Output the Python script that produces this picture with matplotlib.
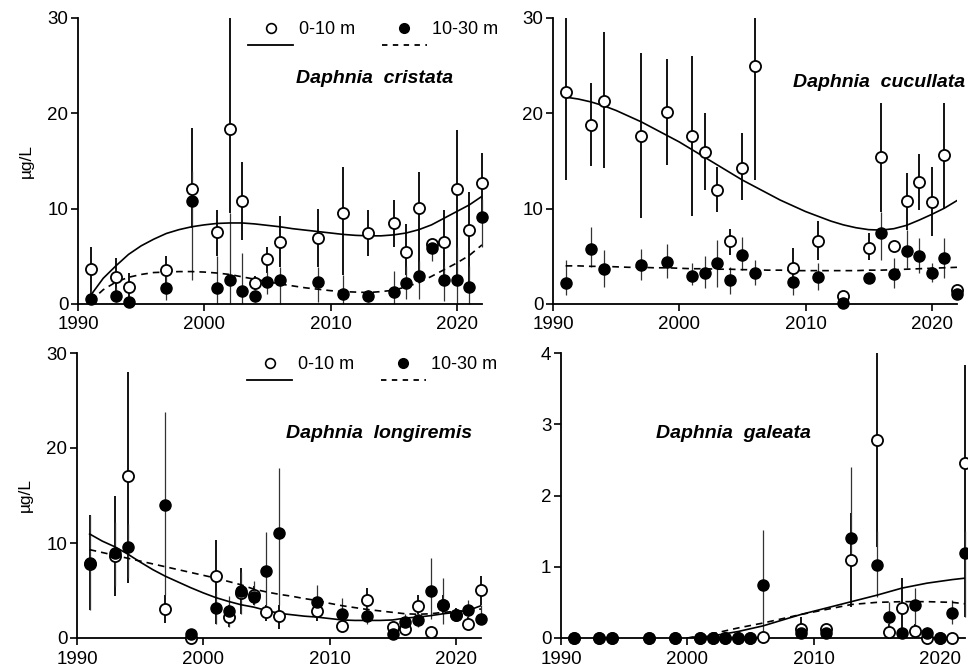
import matplotlib
matplotlib.use('Agg')
import matplotlib.pyplot as plt
from matplotlib.lines import Line2D

plt.rcParams['font.family'] = ['Liberation Sans', 'DejaVu Sans']
plt.rcParams['font.size'] = 12

years = [1991, 1993, 1994, 1997, 1999, 2001, 2002, 2003, 2004, 2005, 2006,
         2009, 2011, 2013, 2015, 2016, 2017, 2018, 2019, 2020, 2021, 2022]

# Daphnia cristata
cri_open = [3.7, 2.8, 1.8, 3.6, 12.1, 7.5, 18.4, 10.8, 2.2, 4.7, 6.5, 6.9, 9.5, 7.4, 8.5, 5.5, 10.1, 6.3, 6.5, 12.1, 7.8, 12.7]
cri_open_lo = [0.8, 0.6, 0.3, 2.2, 8.0, 5.0, 9.5, 6.7, 1.5, 3.2, 3.9, 3.9, 3.0, 5.0, 6.0, 3.0, 3.0, 5.5, 2.5, 2.5, 1.8, 9.0]
cri_open_hi = [6.0, 4.8, 3.2, 5.0, 18.5, 9.9, 30.0, 14.9, 2.9, 6.0, 9.2, 10.0, 14.4, 9.9, 10.9, 8.4, 13.8, 6.7, 9.9, 18.2, 11.8, 15.8]
cri_deep = [0.5, 0.85, 0.25, 1.65, 10.8, 1.65, 2.55, 1.4, 0.85, 2.3, 2.5, 2.35, 1.1, 0.85, 1.25, 2.25, 2.95, 5.85, 2.5, 2.5, 1.8, 9.1]
cri_deep_lo = [0.1, 0.2, 0.0, 0.4, 2.5, 0.0, 0.0, 0.0, 0.2, 1.0, 0.0, 0.2, 0.0, 0.2, 0.0, 0.5, 0.5, 4.5, 0.3, 0.0, 0.0, 6.0]
cri_deep_hi = [1.5, 1.8, 0.8, 3.0, 14.0, 5.0, 9.5, 5.3, 1.5, 3.5, 3.9, 3.9, 3.0, 1.5, 3.5, 4.0, 4.5, 6.5, 4.0, 6.0, 4.0, 11.0]

# Daphnia cucullata
cuc_open = [22.2, 18.8, 21.25, 17.6, 20.1, 17.6, 15.9, 12.0, 6.6, 14.3, 25.0, 3.75, 6.65, 0.8, 5.9, 15.4, 6.1, 10.85, 12.8, 10.7, 15.6, 1.5]
cuc_open_lo = [13.0, 14.5, 14.25, 9.0, 14.6, 9.2, 12.0, 9.7, 5.1, 10.9, 13.0, 2.5, 4.6, 0.5, 4.6, 9.7, 5.5, 7.8, 9.9, 7.1, 10.0, 1.2]
cuc_open_hi = [30.0, 23.2, 28.5, 26.3, 25.7, 26.0, 20.0, 14.4, 7.9, 17.9, 30.0, 5.85, 8.75, 1.0, 7.4, 21.1, 6.6, 13.7, 15.7, 14.4, 21.1, 1.8]
cuc_deep = [2.2, 5.8, 3.65, 4.1, 4.4, 2.9, 3.2, 4.3, 2.5, 5.1, 3.3, 2.35, 2.8, 0.07, 2.76, 7.4, 3.1, 5.55, 5.0, 3.3, 4.8, 1.05]
cuc_deep_lo = [0.9, 3.9, 1.8, 2.5, 2.7, 2.0, 1.65, 1.8, 1.1, 3.6, 2.0, 0.95, 1.5, 0.0, 2.2, 4.6, 1.65, 3.75, 3.2, 2.35, 2.7, 0.8]
cuc_deep_hi = [4.6, 8.1, 5.7, 5.8, 6.3, 4.3, 5.0, 6.7, 3.9, 7.0, 4.6, 3.3, 4.3, 0.2, 3.3, 9.7, 4.8, 7.8, 6.9, 4.3, 6.9, 1.3]

# Daphnia longiremis
lon_open = [7.8, 8.65, 17.1, 3.05, 0.0, 6.55, 2.2, 4.7, 4.5, 2.7, 2.35, 2.8, 1.3, 3.95, 1.2, 0.95, 3.4, 0.6, 3.5, 2.4, 1.5, 5.05]
lon_open_lo = [3.0, 4.4, 5.8, 1.6, 0.0, 1.5, 1.2, 2.5, 3.5, 1.8, 1.0, 1.8, 0.8, 2.5, 0.8, 0.5, 2.5, 0.3, 2.5, 1.8, 1.0, 3.5]
lon_open_hi = [12.9, 14.9, 28.0, 4.55, 0.3, 10.3, 3.5, 7.35, 5.5, 3.5, 3.5, 4.0, 2.0, 5.25, 1.6, 1.5, 4.5, 1.0, 4.5, 3.2, 2.2, 6.5]
lon_deep = [7.9, 9.0, 9.6, 14.0, 0.4, 3.15, 2.85, 5.0, 4.3, 7.1, 11.1, 3.75, 2.55, 2.35, 0.45, 1.65, 1.85, 4.9, 3.5, 2.45, 2.9, 2.05]
lon_deep_lo = [3.0, 5.5, 6.3, 4.5, 0.0, 1.5, 1.2, 2.5, 3.5, 2.5, 3.5, 2.5, 1.3, 1.5, 0.2, 1.0, 1.2, 2.0, 1.5, 1.8, 2.0, 1.5]
lon_deep_hi = [12.9, 12.25, 12.0, 23.8, 0.8, 5.0, 4.4, 7.0, 5.95, 11.2, 17.85, 5.6, 4.2, 3.5, 0.8, 2.5, 2.5, 8.4, 6.3, 3.2, 4.0, 3.5]

# Daphnia galeata
gal_open = [0, 0, 0, 0, 0, 0, 0, 0, 0, 0, 0.02, 0.13, 0.13, 1.1, 2.78, 0.08, 0.42, 0.1, 0.0, 0.0, 0.0, 2.45]
gal_open_lo = [0, 0, 0, 0, 0, 0, 0, 0, 0, 0, 0.0, 0.05, 0.05, 0.44, 1.28, 0.0, 0.0, 0.05, 0.0, 0.0, 0.0, 0.3]
gal_open_hi = [0, 0, 0, 0, 0, 0, 0, 0, 0, 0, 0.05, 0.3, 0.2, 1.75, 4.0, 0.2, 0.84, 0.2, 0.05, 0.0, 0.0, 3.83]
gal_deep = [0, 0, 0, 0, 0, 0, 0, 0, 0, 0, 0.75, 0.07, 0.07, 1.4, 1.03, 0.3, 0.07, 0.47, 0.07, 0.0, 0.35, 1.2]
gal_deep_lo = [0, 0, 0, 0, 0, 0, 0, 0, 0, 0, 0.1, 0.0, 0.0, 1.1, 0.58, 0.1, 0.0, 0.1, 0.0, 0.0, 0.2, 0.3]
gal_deep_hi = [0, 0, 0, 0, 0, 0, 0, 0, 0, 0, 1.52, 0.15, 0.15, 2.4, 1.5, 0.5, 0.15, 0.7, 0.15, 0.0, 0.54, 1.5]

# fitted trend curves
trend_years = list(range(1991, 2023))
cri_fit_open = [0.9, 2.7, 4.0, 5.2, 6.1, 6.8, 7.4, 7.8, 8.1, 8.3, 8.45, 8.5, 8.5, 8.4, 8.25, 8.1,
                7.9, 7.75, 7.6, 7.45, 7.3, 7.2, 7.15, 7.15, 7.25, 7.45, 7.8, 8.3, 9.0, 9.7, 10.4, 11.3]
cri_fit_deep = [0.3, 1.5, 2.3, 2.8, 3.1, 3.3, 3.35, 3.4, 3.4, 3.35, 3.25, 3.1, 2.85, 2.6, 2.35, 2.1,
                1.9, 1.7, 1.55, 1.4, 1.3, 1.25, 1.2, 1.3, 1.45, 1.8, 2.25, 2.9, 3.6, 4.3, 5.1, 6.2]
cuc_fit_open = [21.7, 21.5, 21.2, 20.8, 20.3, 19.7, 19.1, 18.4, 17.7, 17.0, 16.2, 15.4, 14.6, 13.8, 13.0, 12.3,
                11.6, 10.9, 10.3, 9.7, 9.2, 8.7, 8.3, 8.0, 7.8, 7.75, 7.9, 8.25, 8.8, 9.4, 10.05, 10.85]
cuc_fit_deep = [4.0, 4.0, 3.95, 3.95, 3.9, 3.85, 3.85, 3.8, 3.8, 3.75, 3.7, 3.7, 3.65, 3.65, 3.6, 3.6,
                3.55, 3.55, 3.5, 3.5, 3.5, 3.5, 3.5, 3.5, 3.55, 3.55, 3.6, 3.65, 3.7, 3.75, 3.8, 3.85]
lon_fit_open = [10.95, 10.2, 9.6, 8.85, 8.0, 7.2, 6.5, 5.9, 5.3, 4.75, 4.25, 3.85, 3.5, 3.25, 2.9, 2.6,
                2.45, 2.3, 2.2, 2.05, 1.9, 1.85, 1.85, 1.85, 1.9, 2.1, 2.2, 2.35, 2.55, 2.7, 2.9, 3.4]
lon_fit_deep = [9.3, 9.0, 8.7, 8.4, 8.1, 7.8, 7.5, 7.2, 6.9, 6.6, 6.3, 5.95, 5.6, 5.15, 4.85, 4.6,
                4.4, 4.15, 3.95, 3.65, 3.4, 3.2, 3.0, 2.85, 2.7, 2.55, 2.5, 2.55, 2.7, 2.8, 2.9, 3.05]
gal_fit_years = [2000, 2002, 2004, 2006, 2009, 2011, 2013, 2015, 2017, 2019, 2021, 2022]
gal_fit_open = [0.0, 0.03, 0.09, 0.17, 0.33, 0.42, 0.51, 0.6, 0.7, 0.77, 0.82, 0.84]
gal_fit_deep = [0.0, 0.06, 0.14, 0.21, 0.33, 0.40, 0.47, 0.50, 0.51, 0.51, 0.50, 0.48]

panels = [
    dict(name='Daphnia  cristata', pos=[78/968, 1-304/667, 404/968, 286/667], ymax=30, yticks=[0, 10, 20, 30],
         op=cri_open, op_lo=cri_open_lo, op_hi=cri_open_hi, dp=cri_deep, dp_lo=cri_deep_lo, dp_hi=cri_deep_hi,
         fx=trend_years, fo=cri_fit_open, fd=cri_fit_deep, txt=(0.735, 0.787, 'center'), legend=True, ylabel=True),
    dict(name='Daphnia  cucullata', pos=[553/968, 1-304/667, 404/968, 286/667], ymax=30, yticks=[0, 10, 20, 30],
         op=cuc_open, op_lo=cuc_open_lo, op_hi=cuc_open_hi, dp=cuc_deep, dp_lo=cuc_deep_lo, dp_hi=cuc_deep_hi,
         fx=trend_years, fo=cuc_fit_open, fd=cuc_fit_deep, txt=(1.02, 0.776, 'right'), legend=False, ylabel=False),
    dict(name='Daphnia  longiremis', pos=[77/968, 1-638/667, 404/968, 285/667], ymax=30, yticks=[0, 10, 20, 30],
         op=lon_open, op_lo=lon_open_lo, op_hi=lon_open_hi, dp=lon_deep, dp_lo=lon_deep_lo, dp_hi=lon_deep_hi,
         fx=trend_years, fo=lon_fit_open, fd=lon_fit_deep, txt=(0.747, 0.719, 'center'), legend=True, ylabel=True),
    dict(name='Daphnia  galeata', pos=[561/968, 1-638/667, 404/968, 285/667], ymax=4, yticks=[0, 1, 2, 3, 4],
         op=gal_open, op_lo=gal_open_lo, op_hi=gal_open_hi, dp=gal_deep, dp_lo=gal_deep_lo, dp_hi=gal_deep_hi,
         fx=gal_fit_years, fo=gal_fit_open, fd=gal_fit_deep, txt=(0.426, 0.719, 'center'), legend=False, ylabel=False),
]

fig = plt.figure(figsize=(9.68, 6.67), dpi=100)

for p in panels:
    ax = fig.add_axes(p['pos'])
    op, dp = p['op'], p['dp']
    ax.vlines(years, p['op_lo'], p['op_hi'], color='black', lw=1.3, zorder=2, clip_on=False)
    ax.vlines(years, p['dp_lo'], p['dp_hi'], color='#333333', lw=0.9, zorder=2, clip_on=False)
    ax.plot(p['fx'], p['fo'], color='black', lw=1.2, zorder=3)
    ax.plot(p['fx'], p['fd'], color='black', lw=1.2, ls=(0, (4, 3)), zorder=3)
    ax.plot(years, op, 'o', ms=8, mfc='white', mec='black', mew=1.3, zorder=4, clip_on=False)
    ax.plot(years, dp, 'o', ms=8, mfc='black', mec='black', mew=1.0, zorder=5, clip_on=False)

    ax.set_xlim(1990, 2022)
    ax.set_ylim(0, p['ymax'])
    ax.set_xticks([1990, 2000, 2010, 2020])
    ax.set_yticks(p['yticks'])
    for s in ['top', 'right']:
        ax.spines[s].set_visible(False)
    for s in ['left', 'bottom']:
        ax.spines[s].set_linewidth(1.3)
    ax.tick_params(axis='both', direction='out', length=5, width=1.2, labelsize=13.5, pad=2)
    ax.tick_params(axis='x', pad=4)
    if p['ylabel']:
        ax.set_ylabel('µg/L', fontsize=12.5, labelpad=10)

    tx, ty, ha = p['txt']
    ax.text(tx, ty, p['name'], transform=ax.transAxes, ha=ha, va='center',
            fontsize=14, fontweight='bold', fontstyle='italic', zorder=6)

    if p['legend']:
        handles = [Line2D([], [], marker='o', ls='none', ms=7, mfc='white', mec='black', mew=1.2),
                   Line2D([], [], color='black', lw=1.3),
                   Line2D([], [], marker='o', ls='none', ms=7, mfc='black', mec='black'),
                   Line2D([], [], color='black', lw=1.3, ls=(0, (3, 3)))]
        labels = ['0-10 m', ' ', '10-30 m', ' ']
        ax.legend(handles, labels, ncol=2, loc='upper left', bbox_to_anchor=(0.421, 0.99),
                  frameon=False, handlelength=2.5, handletextpad=0.3, columnspacing=1.5,
                  labelspacing=0.0, borderpad=0, borderaxespad=0, fontsize=13)

fig.savefig('out.png', dpi=100)
